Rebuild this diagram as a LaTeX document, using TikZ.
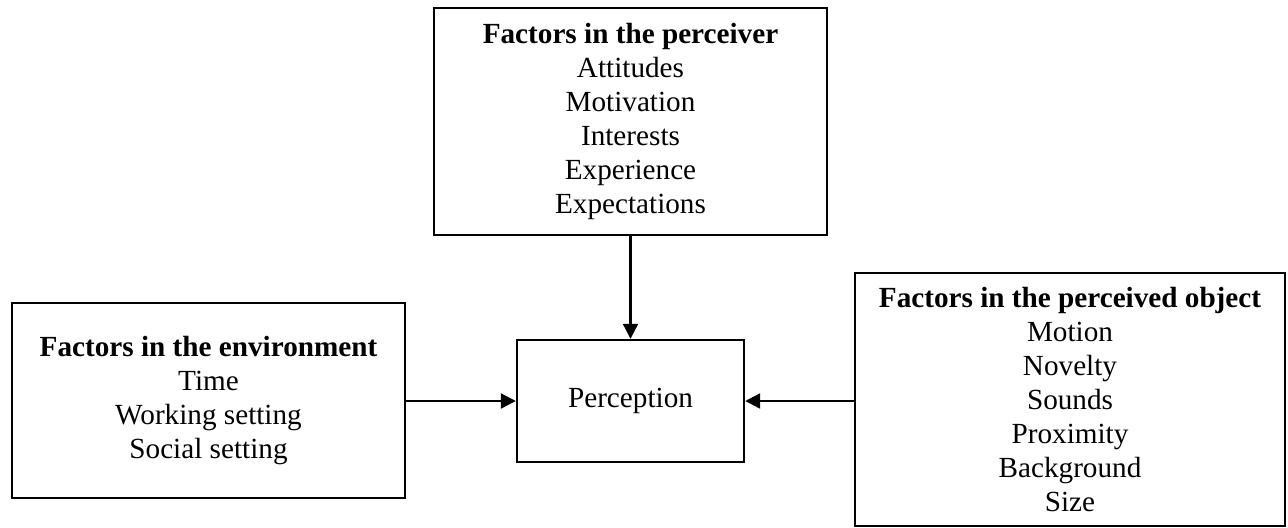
\documentclass[tikz,border=0pt]{standalone}
\usepackage{fontspec}
\setmainfont{Liberation Serif}
\usetikzlibrary{arrows.meta}

\begin{document}
\begin{tikzpicture}[x=0.5pt,y=-0.5pt,
  every node/.style={font=\fontsize{14.6}{17}\selectfont},
  factorbox/.style={draw, line width=1.2pt, align=center, inner sep=0pt},
  link/.style={line width=1.1pt, -{Triangle[length=7.5pt,width=7.5pt]}}]
\useasboundingbox (0,0) rectangle (1288,527);
\node[factorbox, minimum width=196.5pt, minimum height=113.5pt] (perceiver) at (630.5,121.5)
  {\textbf{Factors in the perceiver}\\Attitudes\\Motivation\\Interests\\Experience\\Expectations};
\node[factorbox, minimum width=113.5pt, minimum height=61pt] (perception) at (630.5,401) {Perception};
\node[factorbox, minimum width=196.5pt, minimum height=97.5pt] (environment) at (208.5,400.5)
  {\textbf{Factors in the environment}\\Time\\Working setting\\Social setting};
\node[factorbox, minimum width=215pt, minimum height=126.5pt] (object) at (1070,399.5)
  {\textbf{Factors in the perceived object}\\Motion\\Novelty\\Sounds\\Proximity\\Background\\Size};
\draw[link] (perceiver) -- (perception);
\draw[link] (environment.east |- perception.west) -- (perception.west);
\draw[link] (object.west |- perception.east) -- (perception.east);
\end{tikzpicture}
\end{document}
